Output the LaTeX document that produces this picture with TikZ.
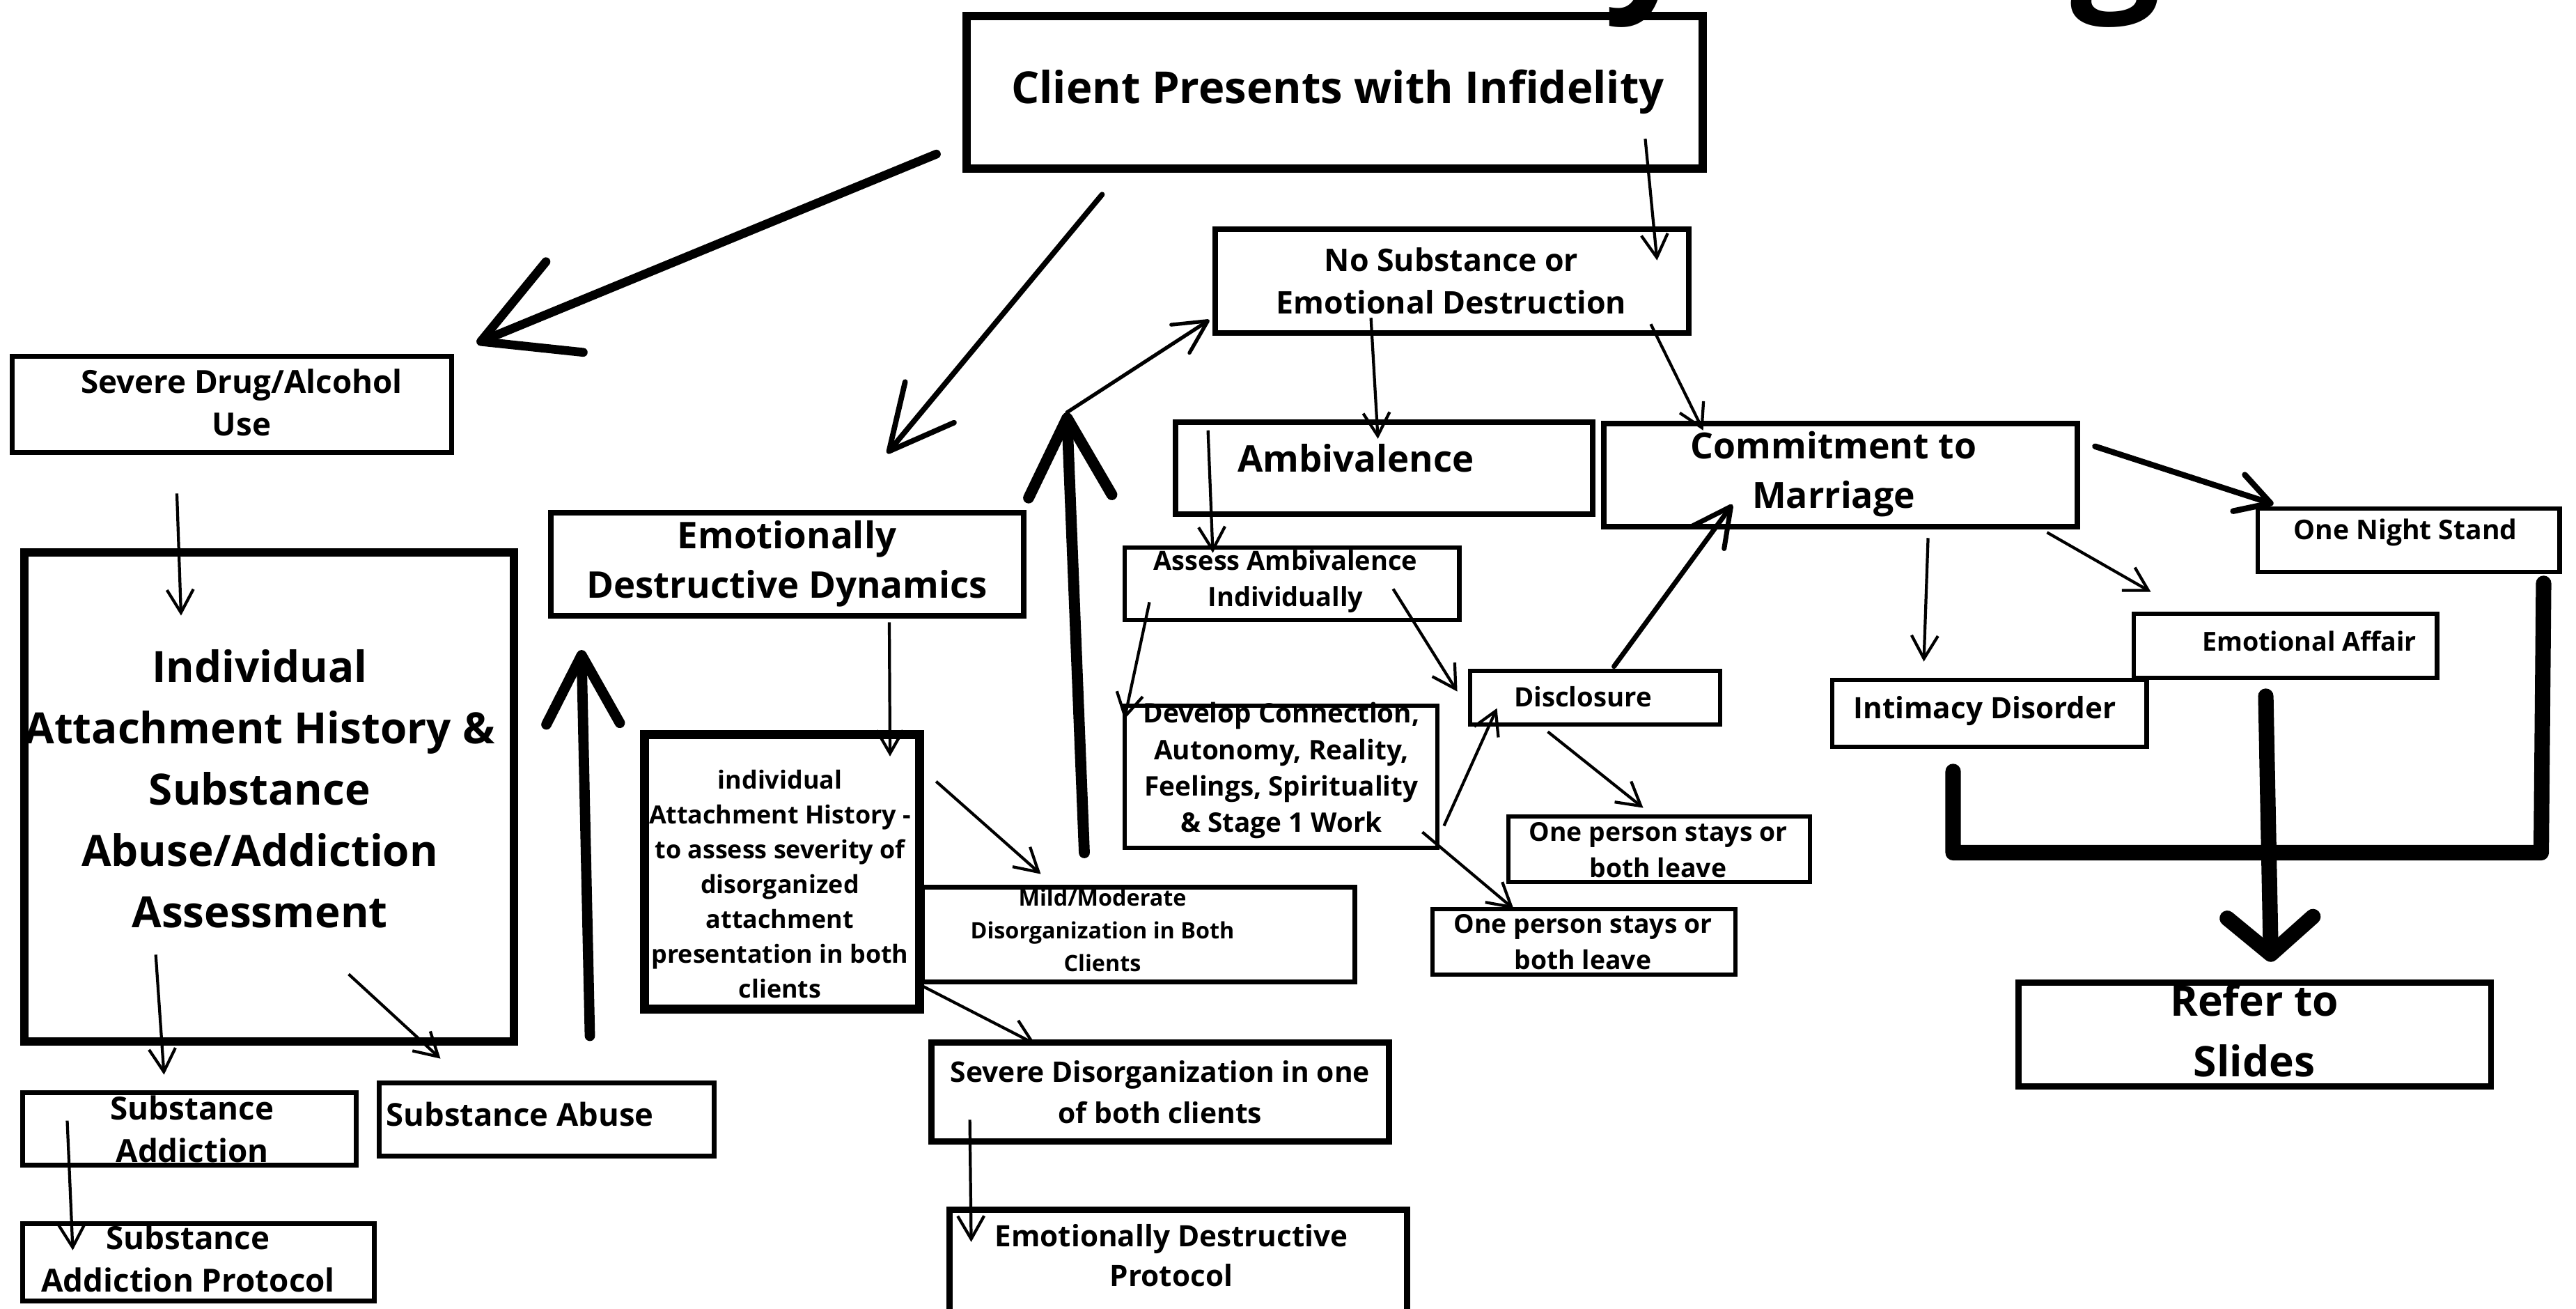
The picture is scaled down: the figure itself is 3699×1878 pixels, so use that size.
\documentclass[tikz,border=0pt]{standalone}
\usepackage{fontspec}
\setmainfont{Open Sans}
\usetikzlibrary{arrows.meta}

\begin{document}
\begin{tikzpicture}[x=0.01cm,y=-0.01cm,
  cell/.style={draw,line width=1.9pt,inner sep=0pt},
  cellmid/.style={cell,line width=2.4pt},
  cellheavy/.style={cell,line width=3.5pt},
  txt/.style={inner sep=0pt,align=center},
  link/.style={line width=1.2pt,-{Straight Barb[length=9.4pt,width=10.8pt]}},
  brush/.style={line cap=round,line join=round}]
  \useasboundingbox (0,0) rectangle (3699,1878);
  % title letters cut by the top edge
  \node[anchor=base,inner sep=0pt,font=\fontsize{65}{65}\selectfont\bfseries] (ttl-y) at (2368,-16) {y};
  \node[anchor=base,inner sep=0pt,font=\fontsize{65}{65}\selectfont\bfseries] (ttl-g) at (3038,-16) {g};

  % boxes
  \node[cellheavy,minimum width=10.57cm,minimum height=2.19cm] (client) at (1916.5,132.5) {};
  \node[cell,minimum width=6.31cm,minimum height=1.38cm] (drug) at (333,580.5) {};
  \node[cellheavy,minimum width=7.03cm,minimum height=7.02cm] (indiv) at (386.5,1144) {};
  \node[cellmid,minimum width=6.79cm,minimum height=1.48cm] (edd) at (1130.5,810) {};
  \node[cellheavy,minimum width=3.95cm,minimum height=3.94cm] (attach) at (1123,1251.5) {};
  \node[cell,minimum width=4.79cm,minimum height=1.04cm] (addict) at (272,1620.5) {};
  \node[cell,minimum width=4.81cm,minimum height=1.05cm] (abuse) at (785,1607) {};
  \node[cell,minimum width=5.05cm,minimum height=1.11cm] (addproto) at (285,1812) {};
  \node[cell,minimum width=6.21cm,minimum height=1.36cm] (mild) at (1635,1341.5) {};
  \node[cellmid,minimum width=6.57cm,minimum height=1.42cm] (severe) at (1666,1567.5) {};
  \node[cellmid,minimum width=6.57cm,minimum height=1.63cm] (edproto) at (1692,1818) {};
  \node[cellmid,minimum width=6.80cm,minimum height=1.49cm] (nosub) at (2085,403.5) {};
  \node[cellmid,minimum width=5.99cm,minimum height=1.32cm] (ambi) at (1987.5,672) {};
  \node[cellmid,minimum width=6.80cm,minimum height=1.48cm] (commit) at (2643,682) {};
  \node[cell,minimum width=4.33cm,minimum height=0.91cm] (ons) at (3458.5,775.5) {};
  \node[cell,minimum width=4.35cm,minimum height=0.92cm] (affair) at (3281.5,927) {};
  \node[cell,minimum width=4.51cm,minimum height=0.96cm] (intimacy) at (2856.5,1024) {};
  \node[cellmid,minimum width=6.78cm,minimum height=1.49cm] (refer) at (3237.5,1485) {};
  \node[cell,minimum width=4.80cm,minimum height=1.04cm] (assess) at (1855,838) {};
  \node[cell,minimum width=4.49cm,minimum height=2.04cm] (develop) at (1839.5,1115) {};
  \node[cell,minimum width=3.59cm,minimum height=0.77cm] (disclose) at (2290.5,1001.5) {};
  \node[cell,minimum width=4.33cm,minimum height=0.94cm] (stay1) at (2382.5,1219) {};
  \node[cell,minimum width=4.35cm,minimum height=0.94cm] (stay2) at (2274.5,1352) {};

  % texts
  \node[txt,font=\fontsize{18}{24}\selectfont\bfseries] (client-t) at (1921,132) {Client Presents with Infidelity};
  \node[txt,font=\fontsize{13}{17.4}\selectfont\bfseries] (drug-t) at (347,578) {Severe Drug/Alcohol\\Use};
  \node[txt,font=\fontsize{17.6}{25}\selectfont\bfseries] (indiv-t) at (373,1132) {Individual\\Attachment History \&\\Substance\\Abuse/Addiction\\Assessment};
  \node[txt,font=\fontsize{15}{20.2}\selectfont\bfseries] (edd-t) at (1130,809) {Emotionally\\Destructive Dynamics};
  \node[txt,font=\fontsize{10.2}{14.2}\selectfont\bfseries] (attach-t) at (1120,1269) {individual\\Attachment History -\\to assess severity of\\disorganized\\attachment\\presentation in both\\clients};
  \node[txt,font=\fontsize{13}{17.4}\selectfont\bfseries] (addict-t) at (276,1621) {Substance\\Addiction};
  \node[txt,anchor=west,font=\fontsize{12.9}{17}\selectfont\bfseries] (abuse-t) at (554,1599) {Substance Abuse};
  \node[txt,font=\fontsize{13}{17.4}\selectfont\bfseries] (addproto-t) at (270,1807) {Substance\\Addiction Protocol};
  \node[txt,font=\fontsize{9.2}{13.4}\selectfont\bfseries] (mild-t) at (1583,1335) {Mild/Moderate\\Disorganization in Both\\Clients};
  \node[txt,font=\fontsize{11.6}{16.8}\selectfont\bfseries] (severe-t) at (1666,1568) {Severe Disorganization in one\\of both clients};
  \node[txt,font=\fontsize{12}{16.2}\selectfont\bfseries] (edproto-t) at (1682,1802) {Emotionally Destructive\\Protocol};
  \node[txt,font=\fontsize{12.7}{17.4}\selectfont\bfseries] (nosub-t) at (2084,403) {No Substance or\\Emotional Destruction};
  \node[txt,font=\fontsize{15}{20}\selectfont\bfseries] (ambi-t) at (1947,658) {Ambivalence};
  \node[txt,font=\fontsize{14.7}{20.2}\selectfont\bfseries] (commit-t) at (2633,681) {Commitment to\\Marriage};
  \node[txt,font=\fontsize{11.1}{15}\selectfont\bfseries] (ons-t) at (3454,764) {One Night Stand};
  \node[txt,font=\fontsize{10.7}{15}\selectfont\bfseries] (affair-t) at (3316,920) {Emotional Affair};
  \node[txt,font=\fontsize{12}{16}\selectfont\bfseries] (intimacy-t) at (2850,1021) {Intimacy Disorder};
  \node[txt,font=\fontsize{17.2}{24.8}\selectfont\bfseries] (refer-t) at (3237,1479) {Refer to\\Slides};
  \node[txt,font=\fontsize{10.8}{14.8}\selectfont\bfseries] (assess-t) at (1846,835) {Assess Ambivalence\\Individually};
  \node[txt,font=\fontsize{11}{14.8}\selectfont\bfseries] (develop-t) at (1840,1106) {Develop Connection,\\Autonomy, Reality,\\Feelings, Spirituality\\\& Stage 1 Work};
  \node[txt,font=\fontsize{10.9}{15}\selectfont\bfseries] (disclose-t) at (2273,1000) {Disclosure};
  \node[txt,font=\fontsize{10.6}{14.8}\selectfont\bfseries] (stay1-t) at (2381,1220) {One person stays or\\both leave};
  \node[txt,font=\fontsize{10.6}{14.8}\selectfont\bfseries] (stay2-t) at (2273,1352) {One person stays or\\both leave};

  % thick strokes from the top box
  \draw[brush,line width=3.6pt,-{Straight Barb[length=37pt,width=40pt,round]}] ([shift={(-37,-27)}]client.south west) -- ([shift={(32.5,-15.5)}]drug.north east);
  \draw[brush,line width=2.2pt,-{Straight Barb[length=26pt,width=26pt,round]}] ([shift={(201,31)}]client.south west) -- ([shift={(143.5,-81)}]edd.north);
  \draw[link] ([shift={(-89,-49)}]client.south east) -- ([shift={(-50,49)}]nosub.north east);

  % free standing upward strokes
  \coordinate (upfoot) at (1557,1224);
  \coordinate (uptip) at (1532,592);
  \coordinate (leftfoot) at (847,1487);
  \coordinate (lefttip) at (835,933);
  \draw[brush,line width=4.5pt,-{Straight Barb[length=32pt,width=34pt,round]}] (upfoot) -- (uptip);
  \draw[brush,line width=4.2pt,-{Straight Barb[length=28pt,width=30pt,round]}] (leftfoot) -- (lefttip);
  \draw[brush,line width=1.5pt,-{Straight Barb[length=13.4pt,width=13.7pt,round]}] (uptip) -- ([shift={(-4,-23)}]nosub.south west);

  % left column
  \draw[link] ([shift={(-79,55.5)}]drug.south) -- ([shift={(-126.5,97)}]indiv.north);
  \draw[link] ([shift={(195,-131)}]indiv.south west) -- ([shift={(206.5,-22.5)}]addict.north west);
  \draw[link] ([shift={(472,-103)}]indiv.south west) -- ([shift={(91.5,-31.5)}]abuse.north west);
  \draw[link] ([shift={(67.5,43.5)}]addict.north west) -- ([shift={(75.5,41.5)}]addproto.north west);

  % middle column
  \draw[link] ([shift={(146.5,5)}]edd.south) -- ([shift={(155,37.5)}]attach.north);
  \draw[link] ([shift={(17.5,73.5)}]attach.north east) -- ([shift={(173.5,-15.5)}]mild.north west);
  \draw[link] ([shift={(-0.5,-38.5)}]attach.south east) -- ([shift={(153.5,6.5)}]severe.north west);
  \draw[link] ([shift={(59.5,-35.5)}]severe.south west) -- ([shift={(35.5,50.5)}]edproto.north west);

  % ambivalence branch
  \draw[link] ([shift={(228,-26)}]nosub.south west) -- ([shift={(295,28)}]ambi.north west);
  \draw[link] ([shift={(-59,-17)}]nosub.south east) -- ([shift={(147,14)}]commit.north west);
  \draw[link] ([shift={(51,16)}]ambi.north west) -- ([shift={(130,11)}]assess.north west);
  \draw[link] ([shift={(39,-29)}]assess.south west) -- ([shift={(3,23)}]develop.north west);
  \draw[link] ([shift={(-98,-48)}]assess.south east) -- ([shift={(-15,33)}]disclose.north west);
  \draw[link] ([shift={(6,-35)}]develop.south east) -- ([shift={(42,57)}]disclose.north west);
  \draw[link] ([shift={(-25,-26)}]develop.south east) -- ([shift={(120,3)}]stay2.north west);
  \draw[link] ([shift={(115,7)}]disclose.south west) -- ([shift={(197,-9)}]stay1.north west);
  \draw[brush,line width=2pt,-{Straight Barb[length=15.5pt,width=15.8pt,round]}] ([shift={(210,-3)}]disclose.north west) -- ([shift={(189,-36)}]commit.south west);

  % commitment branch
  \draw[brush,line width=2.4pt,-{Straight Barb[length=13.6pt,width=15.6pt,round]}] ([shift={(21,37)}]commit.north east) -- ([shift={(26,-3)}]ons.north west);
  \draw[link] ([shift={(-48,4)}]commit.south east) -- ([shift={(28,-28)}]affair.north west);
  \draw[link] ([shift={(470,12)}]commit.south west) -- ([shift={(135,-23)}]intimacy.north west);
  \coordinate (brright) at (3649,1224);
  \draw[brush,line width=6.3pt] ([shift={(177,32)}]intimacy.south west) |- (brright) -- ([shift={(-26,13)}]ons.south east);
  \draw[brush,line width=6.3pt,-{Straight Barb[length=15pt,width=35pt,round]}] ([shift={(193,23)}]affair.south west) -- ([shift={(23.5,-25.5)}]refer.north);
\end{tikzpicture}
\end{document}
